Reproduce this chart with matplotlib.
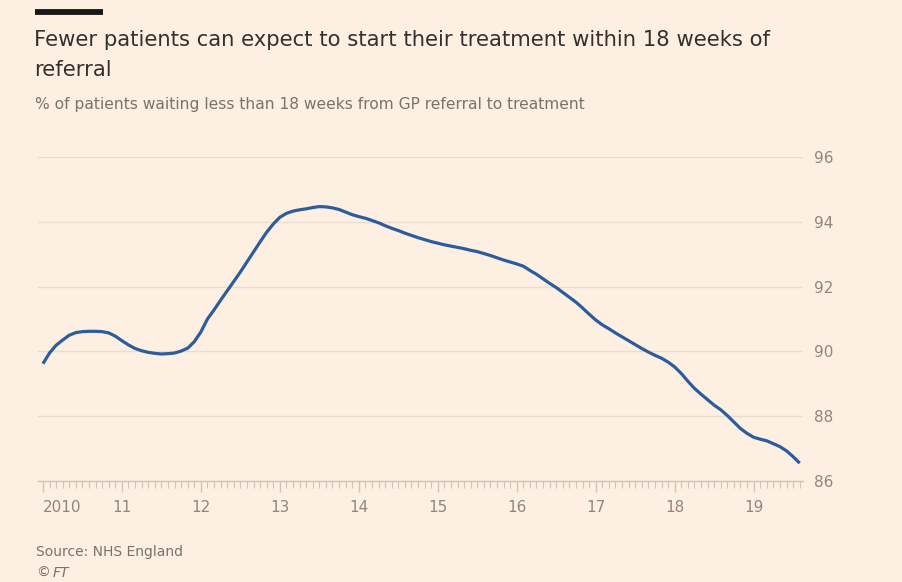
import numpy as np
import matplotlib
matplotlib.use("Agg")
import matplotlib.pyplot as plt
from matplotlib.ticker import FixedLocator, MultipleLocator

# ---- data: monthly % within 18 weeks, Jan 2010 .. Aug 2019 ----
start_year = 2010
values = [
    89.62, 89.95, 90.19, 90.35, 90.50, 90.58, 90.61, 90.62, 90.62, 90.61, 90.57, 90.47,
    90.33, 90.20, 90.09, 90.02, 89.97, 89.94, 89.92, 89.93, 89.95, 90.01, 90.10, 90.30,
    90.60, 91.00, 91.28, 91.58, 91.87, 92.16, 92.45, 92.76, 93.07, 93.38, 93.68, 93.93,
    94.14, 94.26, 94.33, 94.37, 94.40, 94.44, 94.47, 94.46, 94.43, 94.38, 94.30, 94.22,
    94.16, 94.11, 94.04, 93.97, 93.88, 93.80, 93.73, 93.65, 93.58, 93.51, 93.45, 93.39,
    93.34, 93.29, 93.25, 93.21, 93.17, 93.12, 93.08, 93.02, 92.96, 92.89, 92.82, 92.76,
    92.70, 92.63, 92.50, 92.38, 92.24, 92.10, 91.97, 91.82, 91.67, 91.52, 91.34, 91.15,
    90.97, 90.82, 90.70, 90.57, 90.45, 90.33, 90.21, 90.09, 89.98, 89.88, 89.79, 89.67,
    89.52, 89.32, 89.08, 88.86, 88.68, 88.51, 88.34, 88.20, 88.02, 87.82, 87.62, 87.47,
    87.35, 87.29, 87.24, 87.15, 87.06, 86.93, 86.75, 86.55,
]
year_labels = ["2010", "11", "12", "13", "14", "15", "16", "17", "18", "19"]
y_ticks = [86, 88, 90, 92, 94, 96]

months = np.arange(len(values))

BG = "#fdf0e2"
GRID = "#e9ddd0"
AXIS = "#cfc4b8"
TICKTXT = "#8f8680"
LINE = "#2d5c9c"
SUB = "#7a726c"

fig = plt.figure(figsize=(9.02, 5.82), dpi=100, facecolor=BG)
W, H = 902, 582
l, r, t, b = 38, 803, 157, 481
ax = fig.add_axes([l / W, 1 - b / H, (r - l) / W, (b - t) / H], facecolor=BG)

ax.plot(months, values, color=LINE, lw=2.3, solid_capstyle="butt", zorder=3)

ax.set_xlim(-0.75, len(values) - 0.5)
ax.set_ylim(86, 96)

# y axis on right, gridlines
ax.yaxis.tick_right()
ax.yaxis.set_major_locator(FixedLocator(y_ticks))
ax.tick_params(axis="y", length=0, pad=8, labelsize=11, labelcolor=TICKTXT)
ax.grid(axis="y", color=GRID, lw=1, zorder=0)

# x axis
ax.xaxis.set_major_locator(FixedLocator([12 * i for i in range(len(year_labels))]))
ax.xaxis.set_minor_locator(MultipleLocator(1))
ax.set_xticklabels(year_labels)
ax.tick_params(axis="x", which="major", length=8, width=1, color=AXIS,
               labelsize=11, labelcolor=TICKTXT, pad=6)
ax.tick_params(axis="x", which="minor", length=5, width=0.8, color=AXIS)
ax.get_xticklabels()[0].set_horizontalalignment("left")

for s in ["top", "left", "right"]:
    ax.spines[s].set_visible(False)
ax.spines["bottom"].set_color(AXIS)
ax.spines["bottom"].set_linewidth(1)

# header
fig.add_artist(plt.Line2D([35 / W, 103 / W], [1 - 11.5 / H, 1 - 11.5 / H],
                          color="#1a1816", lw=4.2, solid_capstyle="butt"))
fig.text(34 / W, 1 - 40 / H,
         "Fewer patients can expect to start their treatment within 18 weeks of",
         fontsize=15.2, color="#33302e", va="center", ha="left")
fig.text(34 / W, 1 - 70 / H, "referral",
         fontsize=15.2, color="#33302e", va="center", ha="left")
fig.text(35 / W, 1 - 104 / H,
         "% of patients waiting less than 18 weeks from GP referral to treatment",
         fontsize=11.2, color=SUB, va="center", ha="left")

# footer
fig.text(36 / W, 1 - 552 / H, "Source: NHS England", fontsize=10, color=SUB,
         va="center", ha="left")
fig.text(36 / W, 1 - 573 / H, "©", fontsize=10, color=SUB, va="center", ha="left")
fig.text(53 / W, 1 - 573 / H, "FT", fontsize=10, color=SUB, va="center", ha="left",
         style="italic")

fig.savefig("out.png", dpi=100, facecolor=BG)
